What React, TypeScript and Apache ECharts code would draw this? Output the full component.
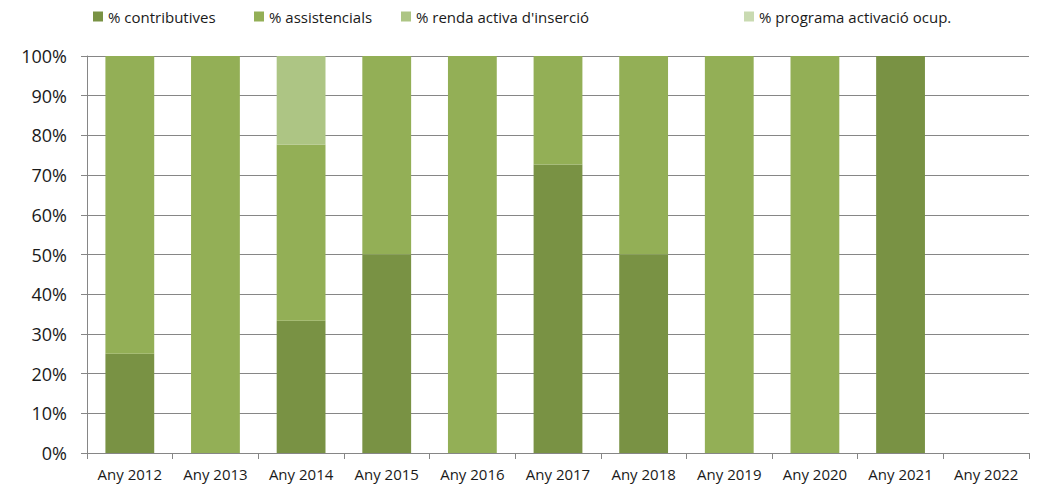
import React, { useEffect, useRef } from "react";
import * as echarts from "echarts";

const categories = ["Any 2012", "Any 2013", "Any 2014", "Any 2015", "Any 2016", "Any 2017", "Any 2018", "Any 2019", "Any 2020", "Any 2021", "Any 2022"];
const seriesNames = ["% contributives", "% assistencials", "% renda activa d'inserció", "% programa activació ocup."];
const contributives = [25, 0, 33.3, 50, 0, 72.7, 50, 0, 0, 100, 0];
const assistencials = [75, 100, 44.4, 50, 100, 27.3, 50, 100, 100, 0, 0];
const rendaActiva = [0, 0, 22.3, 0, 0, 0, 0, 0, 0, 0, 0];
const programaActivacio = [0, 0, 0, 0, 0, 0, 0, 0, 0, 0, 0];
const colors = ["#799244", "#93AF56", "#ADC584", "#C9DAB1"];
const legendLefts = [88, 249, 396, 739];

const FONT = "'Open Sans', 'Noto Sans', sans-serif";

export default function App() {
  const ref = useRef<HTMLDivElement>(null);
  useEffect(() => {
    if (!ref.current) return;
    const chart = echarts.init(ref.current, null, { renderer: "svg" });
    const values = [contributives, assistencials, rendaActiva, programaActivacio];
    chart.setOption({
      animation: false,
      color: colors,
      textStyle: { fontFamily: FONT },
      legend: seriesNames.map((n, i) => ({
        data: [n],
        left: legendLefts[i],
        top: 4,
        itemWidth: 10,
        itemHeight: 10,
        itemGap: 0,
        icon: "rect",
        textStyle: { fontSize: 15, color: "#1a1a1a", fontFamily: FONT },
      })),
      grid: { left: 87, right: 12, top: 56, bottom: 37, containLabel: false },
      xAxis: {
        type: "category",
        data: categories,
        axisLine: { lineStyle: { color: "#868686", width: 1 } },
        axisTick: { show: true, length: 6, lineStyle: { color: "#868686" } },
        axisLabel: { interval: 0, color: "#1a1a1a", fontSize: 15, margin: 13, fontFamily: FONT },
      },
      yAxis: {
        type: "value",
        min: 0,
        max: 100,
        interval: 10,
        axisLine: { show: true, lineStyle: { color: "#868686", width: 1 } },
        axisTick: { show: true, length: 6, lineStyle: { color: "#868686" } },
        axisLabel: { formatter: "{value}%", color: "#1a1a1a", fontSize: 18, margin: 20, fontFamily: FONT },
        splitLine: { show: true, lineStyle: { color: "#868686", width: 1 } },
      },
      series: seriesNames.map((n, i) => ({
        name: n,
        type: "bar",
        stack: "total",
        barWidth: "57%",
        data: values[i].map((v) => (v === 0 ? null : v)),
        itemStyle: { color: colors[i] },
      })),
    });
    return () => chart.dispose();
  }, []);
  return <div ref={ref} style={{ width: 1041, height: 490, position: "absolute", left: 0, top: 0 }} />;
}
